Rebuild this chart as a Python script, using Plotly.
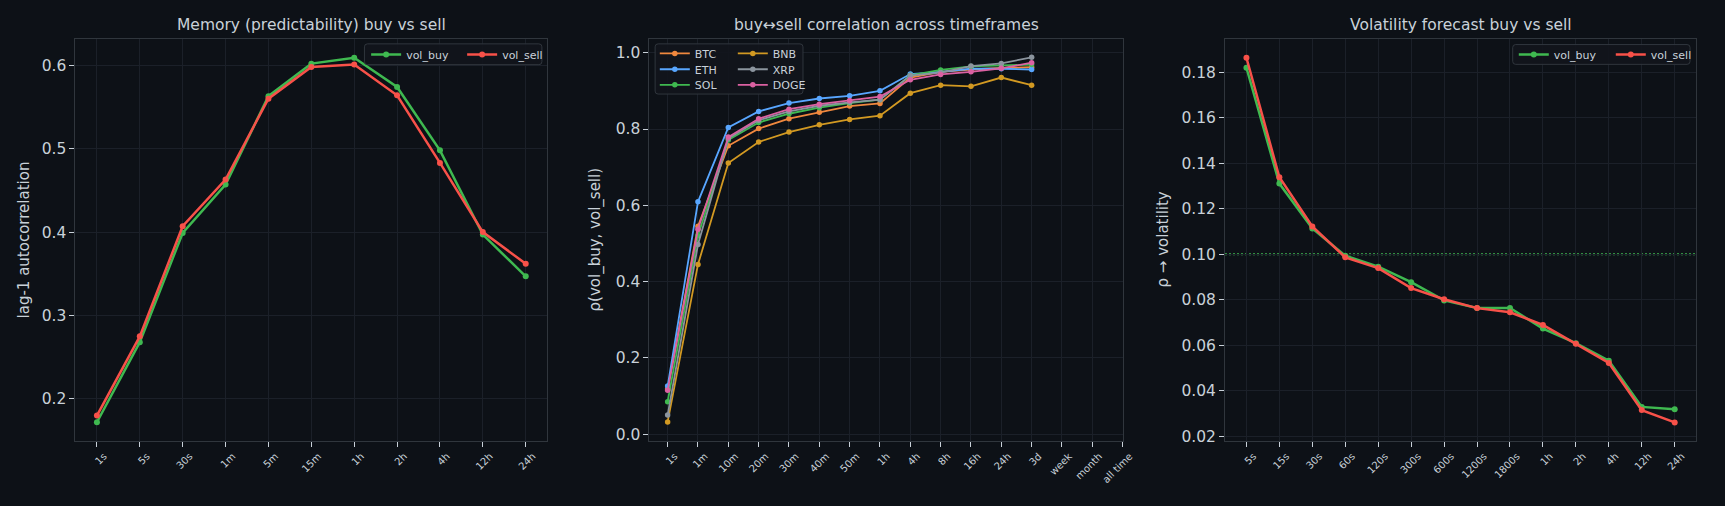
import plotly.graph_objects as go

W, H = 1725, 506
BG = '#0d1117'
LEG_BG = 'rgba(17,21,28,0.92)'
TXT = '#c9d1d9'
GRID = '#1b2029'
SPINE = '#30363d'
GREEN = '#3fb950'
RED = '#f85149'
FONT = 'DejaVu Sans'

# ---------------- data ----------------
mem_labels = ['1s', '5s', '30s', '1m', '5m', '15m', '1h', '2h', '4h', '12h', '24h']
mem_buy = [0.172, 0.268, 0.399, 0.457, 0.563, 0.602, 0.609, 0.574, 0.498, 0.397, 0.347]
mem_sell = [0.180, 0.275, 0.407, 0.463, 0.560, 0.598, 0.601, 0.564, 0.483, 0.400, 0.362]

corr_labels = ['1s', '1m', '10m', '20m', '30m', '40m', '50m', '1h', '4h', '8h',
               '16h', '24h', '3d', 'week', 'month', 'all time']
corr_btc = [0.118, 0.545, 0.756, 0.801, 0.827, 0.844, 0.860, 0.867, 0.935, 0.950, 0.956, 0.960, 0.962]
corr_eth = [0.126, 0.609, 0.804, 0.846, 0.868, 0.880, 0.887, 0.900, 0.944, 0.950, 0.958, 0.958, 0.956]
corr_sol = [0.085, 0.520, 0.771, 0.817, 0.840, 0.856, 0.868, 0.877, 0.941, 0.955, 0.964, 0.967, 0.969]
corr_bnb = [0.032, 0.445, 0.711, 0.766, 0.792, 0.811, 0.825, 0.835, 0.894, 0.915, 0.912, 0.935, 0.915]
corr_xrp = [0.050, 0.497, 0.775, 0.823, 0.846, 0.861, 0.870, 0.877, 0.940, 0.948, 0.965, 0.972, 0.988]
corr_doge = [0.115, 0.537, 0.779, 0.827, 0.852, 0.865, 0.875, 0.885, 0.929, 0.943, 0.950, 0.959, 0.974]

vol_labels = ['5s', '15s', '30s', '60s', '120s', '300s', '600s', '1200s', '1800s',
              '1h', '2h', '4h', '12h', '24h']
vol_buy = [0.1819, 0.1310, 0.1113, 0.0993, 0.0945, 0.0877, 0.0797, 0.0764, 0.0764,
           0.0673, 0.0609, 0.0532, 0.0329, 0.0319]
vol_sell = [0.1863, 0.1338, 0.1122, 0.0986, 0.0939, 0.0851, 0.0802, 0.0763, 0.0745,
            0.0689, 0.0606, 0.0522, 0.0315, 0.0261]
vol_threshold = 0.10

coins = ['BTC', 'ETH', 'SOL', 'BNB', 'XRP', 'DOGE']
coin_values = [corr_btc, corr_eth, corr_sol, corr_bnb, corr_xrp, corr_doge]
coin_colors = ['#f0883e', '#58a6ff', '#3fb950', '#d29922', '#8b949e', '#db61a2']
# legend rows (two columns): row i holds coins[i] and coins[i+3]
coin_legend = ['legend2', 'legend3', 'legend5', 'legend2', 'legend3', 'legend5']

titles = ['Memory (predictability) buy vs sell',
          'buy↔sell correlation across timeframes',
          'Volatility forecast buy vs sell']
ytitles = ['lag-1 autocorrelation', 'ρ(vol_buy, vol_sell)', 'ρ → volatility']

# ---------------- layout geometry (pixels) ----------------
def px(x):
    return x / W

def py(y):
    return 1 - y / H

TOP, BOT = 39, 445
xdoms = [(76, 551), (654, 1130.5), (1233.6, 1708)]
ytitle_x = [24, 600, 1171]
ROW_OFF = 14  # legend top -> row centre offset


def rounded_box(x0, y0, x1, y1, r=3):
    X = lambda v: f'{px(v):.6f}'
    Y = lambda v: f'{py(v):.6f}'
    return (f'M{X(x0 + r)},{Y(y0)} L{X(x1 - r)},{Y(y0)} Q{X(x1)},{Y(y0)} {X(x1)},{Y(y0 + r)} '
            f'L{X(x1)},{Y(y1 - r)} Q{X(x1)},{Y(y1)} {X(x1 - r)},{Y(y1)} '
            f'L{X(x0 + r)},{Y(y1)} Q{X(x0)},{Y(y1)} {X(x0)},{Y(y1 - r)} '
            f'L{X(x0)},{Y(y0 + r)} Q{X(x0)},{Y(y0)} {X(x0 + r)},{Y(y0)} Z')


fig = go.Figure()

# Panel 1
fig.add_trace(go.Scatter(x=mem_labels, y=mem_buy, name='vol_buy', mode='lines+markers',
                         line=dict(color=GREEN, width=2.5), marker=dict(size=6, color=GREEN),
                         xaxis='x', yaxis='y', legend='legend'))
fig.add_trace(go.Scatter(x=mem_labels, y=mem_sell, name='vol_sell', mode='lines+markers',
                         line=dict(color=RED, width=2.5), marker=dict(size=6, color=RED),
                         xaxis='x', yaxis='y', legend='legend'))

# Panel 2
order = {'BTC': 1, 'BNB': 2, 'ETH': 1, 'XRP': 2, 'SOL': 1, 'DOGE': 2}
for name, vals, col, lg in zip(coins, coin_values, coin_colors, coin_legend):
    fig.add_trace(go.Scatter(x=corr_labels[:len(vals)], y=vals, name=name, mode='lines+markers',
                             line=dict(color=col, width=1.8), marker=dict(size=5.5, color=col),
                             xaxis='x2', yaxis='y2', legend=lg, legendrank=order[name]))

# Panel 3
fig.add_trace(go.Scatter(x=vol_labels, y=vol_buy, name='vol_buy', mode='lines+markers',
                         line=dict(color=GREEN, width=2.5), marker=dict(size=6, color=GREEN),
                         xaxis='x3', yaxis='y3', legend='legend4'))
fig.add_trace(go.Scatter(x=vol_labels, y=vol_sell, name='vol_sell', mode='lines+markers',
                         line=dict(color=RED, width=2.5), marker=dict(size=6, color=RED),
                         xaxis='x3', yaxis='y3', legend='legend4'))

fig.add_shape(type='line', xref='x3 domain', yref='y3', x0=0, x1=1,
              y0=vol_threshold, y1=vol_threshold,
              line=dict(color=GREEN, width=2, dash='2px,2px'), opacity=1.0, layer='below')

# legend frames
for (bx0, by0, bx1, by1) in [(367, 44.3, 545.7, 65.3), (659.7, 44.3, 808.6, 95),
                             (1523.3, 45, 1701.9, 65)]:
    fig.add_shape(type='path', xref='paper', yref='paper', path=rounded_box(bx0, by0, bx1, by1),
                  fillcolor=LEG_BG, line=dict(color=SPINE, width=1), layer='above')

common_x = dict(type='category', showline=True, mirror=True, linecolor=SPINE, linewidth=1,
                ticks='outside', ticklen=5, tickwidth=1, tickcolor=TXT,
                tickangle=-45, tickfont=dict(size=10, color=TXT, family=FONT),
                showgrid=True, gridcolor=GRID, gridwidth=1, zeroline=False,
                ticklabelshift=7)
common_y = dict(showline=True, mirror=True, linecolor=SPINE, linewidth=1,
                ticks='outside', ticklen=5, tickwidth=1, tickcolor=TXT,
                tickfont=dict(size=15.5, color=TXT, family=FONT),
                showgrid=True, gridcolor=GRID, gridwidth=1, zeroline=False)

ydom = [py(BOT), py(TOP)]


def leg(x, yc, ew):
    return dict(orientation='h', x=px(x), xanchor='left', y=py(yc - ROW_OFF), yanchor='top',
                bgcolor='rgba(0,0,0,0)', borderwidth=0, entrywidth=ew, entrywidthmode='pixels',
                font=dict(size=11, color=TXT, family=FONT), itemwidth=30)


layout = dict(
    width=W, height=H, margin=dict(l=0, r=0, t=0, b=0),
    paper_bgcolor=BG, plot_bgcolor=BG,
    font=dict(family=FONT, color=TXT),
    xaxis=dict(common_x, domain=[px(xdoms[0][0]), px(xdoms[0][1])], anchor='y',
               range=[-0.5, 10.5], categoryorder='array', categoryarray=mem_labels),
    yaxis=dict(common_y, domain=ydom, anchor='x', range=[0.150, 0.632],
               tickvals=[0.2, 0.3, 0.4, 0.5, 0.6], tickformat='.1f'),
    xaxis2=dict(common_x, domain=[px(xdoms[1][0]), px(xdoms[1][1])], anchor='y2',
                range=[-0.6, 15], categoryorder='array', categoryarray=corr_labels),
    yaxis2=dict(common_y, domain=ydom, anchor='x2', range=[-0.017, 1.037],
                tickvals=[0.0, 0.2, 0.4, 0.6, 0.8, 1.0], tickformat='.1f'),
    xaxis3=dict(common_x, domain=[px(xdoms[2][0]), px(xdoms[2][1])], anchor='y3',
                range=[-0.65, 13.65], categoryorder='array', categoryarray=vol_labels),
    yaxis3=dict(common_y, domain=ydom, anchor='x3', range=[0.0181, 0.1947],
                tickvals=[0.02, 0.04, 0.06, 0.08, 0.10, 0.12, 0.14, 0.16, 0.18],
                tickformat='.2f'),
    legend=leg(368.7, 54.5, 51),
    legend2=leg(659.4, 53.3, 33),
    legend3=leg(659.4, 69.3, 33),
    legend5=leg(659.4, 85.0, 33),
    legend4=leg(1524.4, 54.5, 52),
)
fig.update_layout(**layout)

annotations = []
for (x0, x1), t in zip(xdoms, titles):
    annotations.append(dict(text=t, x=px((x0 + x1) / 2), y=py(25.5), xref='paper', yref='paper',
                            xanchor='center', yanchor='middle', showarrow=False,
                            font=dict(size=15.5, color=TXT, family=FONT)))
for xt, t in zip(ytitle_x, ytitles):
    annotations.append(dict(text=t, x=px(xt), y=py((TOP + BOT) / 2), xref='paper', yref='paper',
                            xanchor='center', yanchor='middle', showarrow=False, textangle=-90,
                            font=dict(size=15, color=TXT, family=FONT)))
fig.update_layout(annotations=annotations)

fig.write_html('out.html')
